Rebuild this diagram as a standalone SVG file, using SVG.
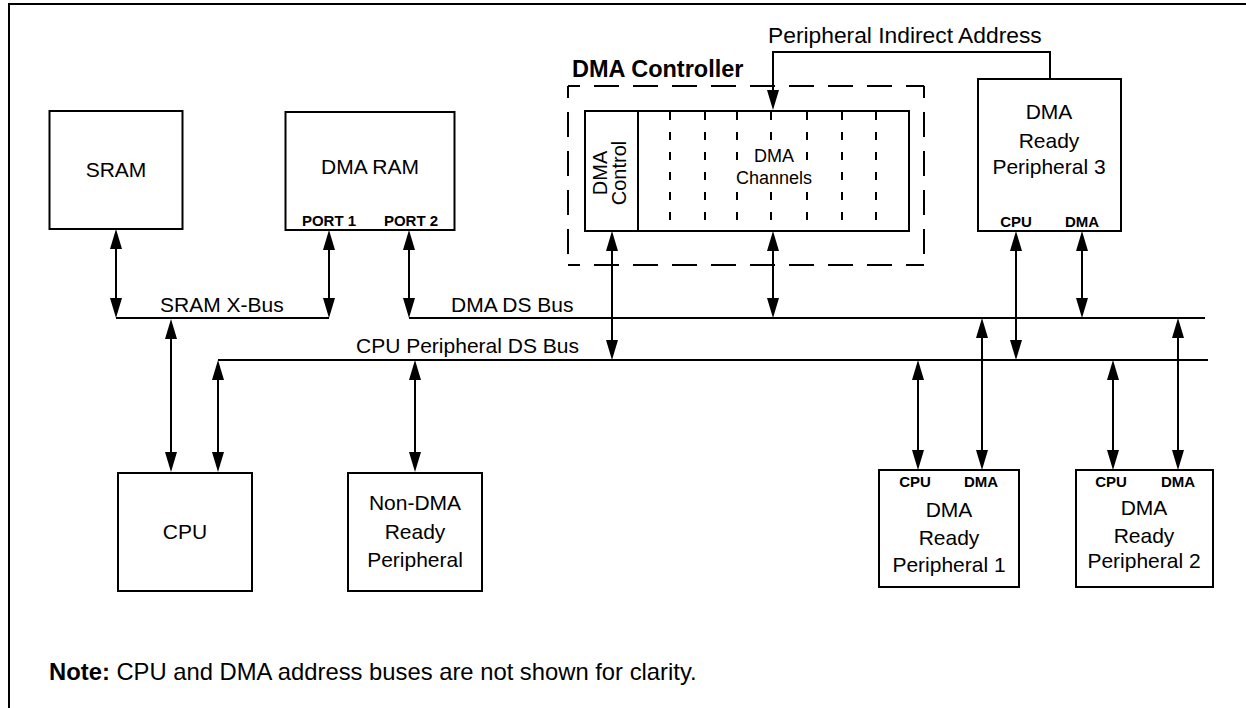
<svg xmlns="http://www.w3.org/2000/svg" width="1246" height="708" viewBox="0 0 1246 708">
<style>
.box{fill:#fff;stroke:#000;stroke-width:2}
.ln{fill:none;stroke:#000;stroke-width:2}
.arr{fill:none;stroke:#000;stroke-width:2;marker-start:url(#ah);marker-end:url(#ah)}
.dsh{fill:none;stroke:#000;stroke-width:2;stroke-dasharray:25 14;stroke-dashoffset:13}
.div{fill:none;stroke:#000;stroke-width:2;stroke-dasharray:8 12}
.t{font-family:"Liberation Sans",Arial,sans-serif;font-size:21px;fill:#000}
.c{text-anchor:middle}
.sb{font-family:"Liberation Sans",Arial,sans-serif;font-size:15px;font-weight:bold;fill:#000;text-anchor:middle}
</style>
<defs>
<marker id="ah" markerUnits="userSpaceOnUse" markerWidth="20" markerHeight="12" viewBox="0 0 20 12" refX="17" refY="6" orient="auto-start-reverse"><path d="M0,0 L20,6 L0,12 z" fill="#000"/></marker>
<marker id="ahe" markerUnits="userSpaceOnUse" markerWidth="20" markerHeight="12" viewBox="0 0 20 12" refX="17" refY="6" orient="auto"><path d="M0,0 L20,6 L0,12 z" fill="#000"/></marker>
</defs>
<rect width="1246" height="708" fill="#fff"/>
<g id="frame"><path class="ln" d="M9,708 V4 H1246"/></g>

<g id="sram"><rect class="box" x="49.5" y="111" width="133" height="118"/><text class="t c" x="116" y="177">SRAM</text></g>
<g id="dmaram"><rect class="box" x="285.5" y="112" width="169" height="118"/><text class="t c" x="370" y="174">DMA RAM</text><text class="sb" x="329" y="226">PORT 1</text><text class="sb" x="411" y="226">PORT 2</text></g>

<g id="dmacontroller">
<text x="572" y="77" style="font-family:'Liberation Sans',Arial,sans-serif;font-size:23.5px;font-weight:bold">DMA Controller</text>
<line class="dsh" x1="568" y1="86" x2="924" y2="86"/>
<line class="dsh" x1="568" y1="86" x2="568" y2="265"/>
<line class="dsh" x1="568" y1="265" x2="924" y2="265"/>
<line class="dsh" x1="924" y1="86" x2="924" y2="265"/>
<rect class="box" x="585" y="111" width="324" height="120"/>
<line class="ln" x1="638" y1="111" x2="638" y2="231"/>
<g id="channels">
<line class="div" x1="670" y1="112" x2="670" y2="230"/>
<line class="div" x1="705" y1="112" x2="705" y2="230"/>
<line class="div" x1="737" y1="112" x2="737" y2="230"/>
<line class="div" x1="771" y1="112" x2="771" y2="230"/>
<line class="div" x1="807" y1="112" x2="807" y2="230"/>
<line class="div" x1="842" y1="112" x2="842" y2="230"/>
<line class="div" x1="876" y1="112" x2="876" y2="230"/>
<rect x="751" y="147" width="45" height="17" fill="#fff"/>
<rect x="734" y="170" width="81" height="18" fill="#fff"/>
<text class="t c" x="774" y="162" style="font-size:18px">DMA</text>
<text class="t c" x="774" y="184" style="font-size:18px">Channels</text>
</g>
<g id="dmacontrol"><text class="t c" transform="translate(607,173) rotate(-90)" style="font-size:20px">DMA</text><text class="t c" transform="translate(626,173) rotate(-90)" style="font-size:20px">Control</text></g>
</g>

<g id="periph3"><rect class="box" x="978" y="79" width="143" height="152"/><text class="t c" x="1049" y="119">DMA</text><text class="t c" x="1049" y="148">Ready</text><text class="t c" x="1049" y="174">Peripheral 3</text><text class="sb" x="1016" y="227">CPU</text><text class="sb" x="1082" y="227">DMA</text></g>

<g id="cpu"><rect class="box" x="118" y="473" width="134" height="118"/><text class="t c" x="185" y="539">CPU</text></g>
<g id="nondma"><rect class="box" x="348" y="473" width="134" height="118"/><text class="t c" x="415" y="510">Non-DMA</text><text class="t c" x="415" y="539">Ready</text><text class="t c" x="415" y="567">Peripheral</text></g>
<g id="periph1"><rect class="box" x="879" y="470" width="140" height="117"/><text class="sb" x="915" y="487">CPU</text><text class="sb" x="981" y="487">DMA</text><text class="t c" x="949" y="517">DMA</text><text class="t c" x="949" y="545">Ready</text><text class="t c" x="949" y="572">Peripheral 1</text></g>
<g id="periph2"><rect class="box" x="1076" y="470" width="137" height="117"/><text class="sb" x="1111" y="487">CPU</text><text class="sb" x="1178" y="487">DMA</text><text class="t c" x="1144" y="515">DMA</text><text class="t c" x="1144" y="543">Ready</text><text class="t c" x="1144" y="568">Peripheral 2</text></g>

<g id="connectors">
<line class="ln" x1="116" y1="318" x2="329" y2="318"/>
<line class="ln" x1="409" y1="318" x2="1205" y2="318"/>
<line class="ln" x1="218" y1="360" x2="1208" y2="360"/>
<text class="t" x="160" y="312">SRAM X-Bus</text>
<text class="t" x="451" y="312">DMA DS Bus</text>
<text class="t" x="356" y="353">CPU Peripheral DS Bus</text>
<text x="768" y="43" style="font-family:'Liberation Sans',Arial,sans-serif;font-size:22.8px">Peripheral Indirect Address</text>
<polyline class="ln" points="1050,79 1050,52 773,52 773,107" style="marker-end:url(#ahe)"/>
<line class="arr" x1="116" y1="232" x2="116" y2="315"/>
<line class="arr" x1="329" y1="233" x2="329" y2="315"/>
<line class="arr" x1="409" y1="233" x2="409" y2="315"/>
<line class="arr" x1="171" y1="322" x2="171" y2="469"/>
<line class="arr" x1="218" y1="363" x2="218" y2="469"/>
<line class="arr" x1="415" y1="363" x2="415" y2="469"/>
<line class="arr" x1="612" y1="234" x2="612" y2="357"/>
<line class="arr" x1="773" y1="234" x2="773" y2="315"/>
<line class="arr" x1="1016" y1="234" x2="1016" y2="357"/>
<line class="arr" x1="1082" y1="234" x2="1082" y2="315"/>
<line class="arr" x1="918" y1="363" x2="918" y2="467"/>
<line class="arr" x1="982" y1="321" x2="982" y2="467"/>
<line class="arr" x1="1113" y1="363" x2="1113" y2="467"/>
<line class="arr" x1="1178" y1="321" x2="1178" y2="467"/>
</g>

<g id="note"><text x="49" y="680" style="font-family:'Liberation Sans',Arial,sans-serif;font-size:23.8px"><tspan font-weight="bold">Note:</tspan> CPU and DMA address buses are not shown for clarity.</text></g>
</svg>
